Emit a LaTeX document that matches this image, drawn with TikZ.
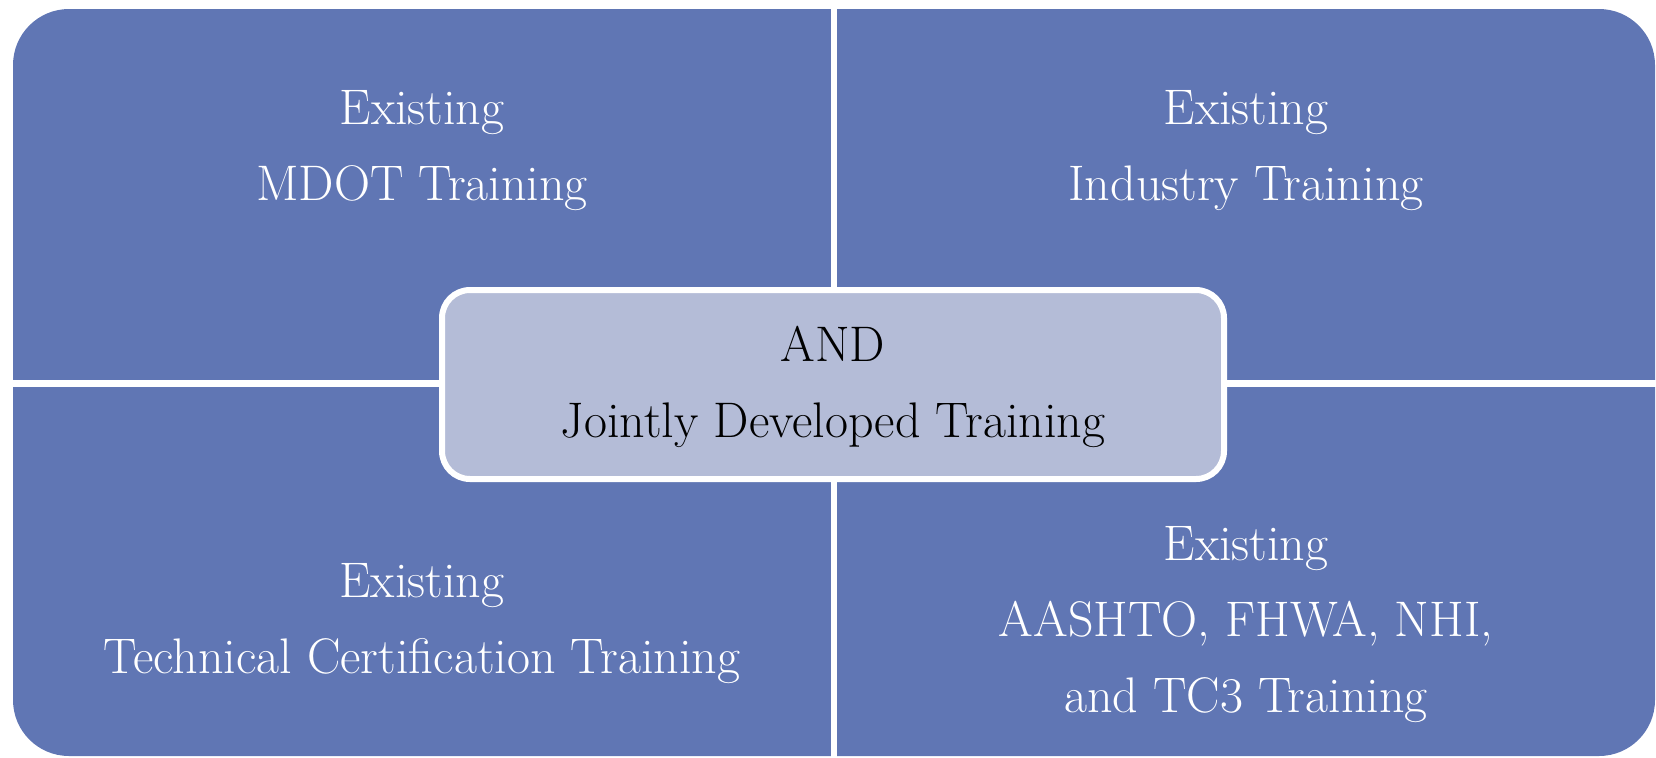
\documentclass[tikz,border=0pt]{standalone}
\definecolor{quadblue}{HTML}{6076B4}
\definecolor{coreblue}{HTML}{B4BCD7}
\tikzset{
    quadtext/.style={align=center, text=white, font=\fontsize{25}{38}\selectfont},
    coretext/.style={align=center, text=black, font=\fontsize{25}{38}\selectfont},
}
\begin{document}
\begin{tikzpicture}[x=0.5pt, y=-0.5pt]
    \useasboundingbox (0,0) rectangle (1656,757);
    \fill [quadblue, rounded corners=28pt] (13,9) rectangle (1655,756);
    \draw [white, line width=3pt] (834,0) -- (834,757);
    \draw [white, line width=3.5pt] (0,383.5) -- (1656,383.5);
    \draw [white, line width=3pt, fill=coreblue, rounded corners=14pt] (442,290) rectangle (1224,479);
    \node [quadtext] (mdot) at (422,151) {Existing\\MDOT Training};
    \node [quadtext] (industry) at (1246,151) {Existing\\Industry Training};
    \node [quadtext] (techcert) at (422,624) {Existing\\Technical Certification Training};
    \node [quadtext] (aashto) at (1246,625) {Existing\\AASHTO, FHWA, NHI,\\and TC3 Training};
    \node [coretext] (joint) at (833,387) {AND\\Jointly Developed Training};
\end{tikzpicture}
\end{document}
